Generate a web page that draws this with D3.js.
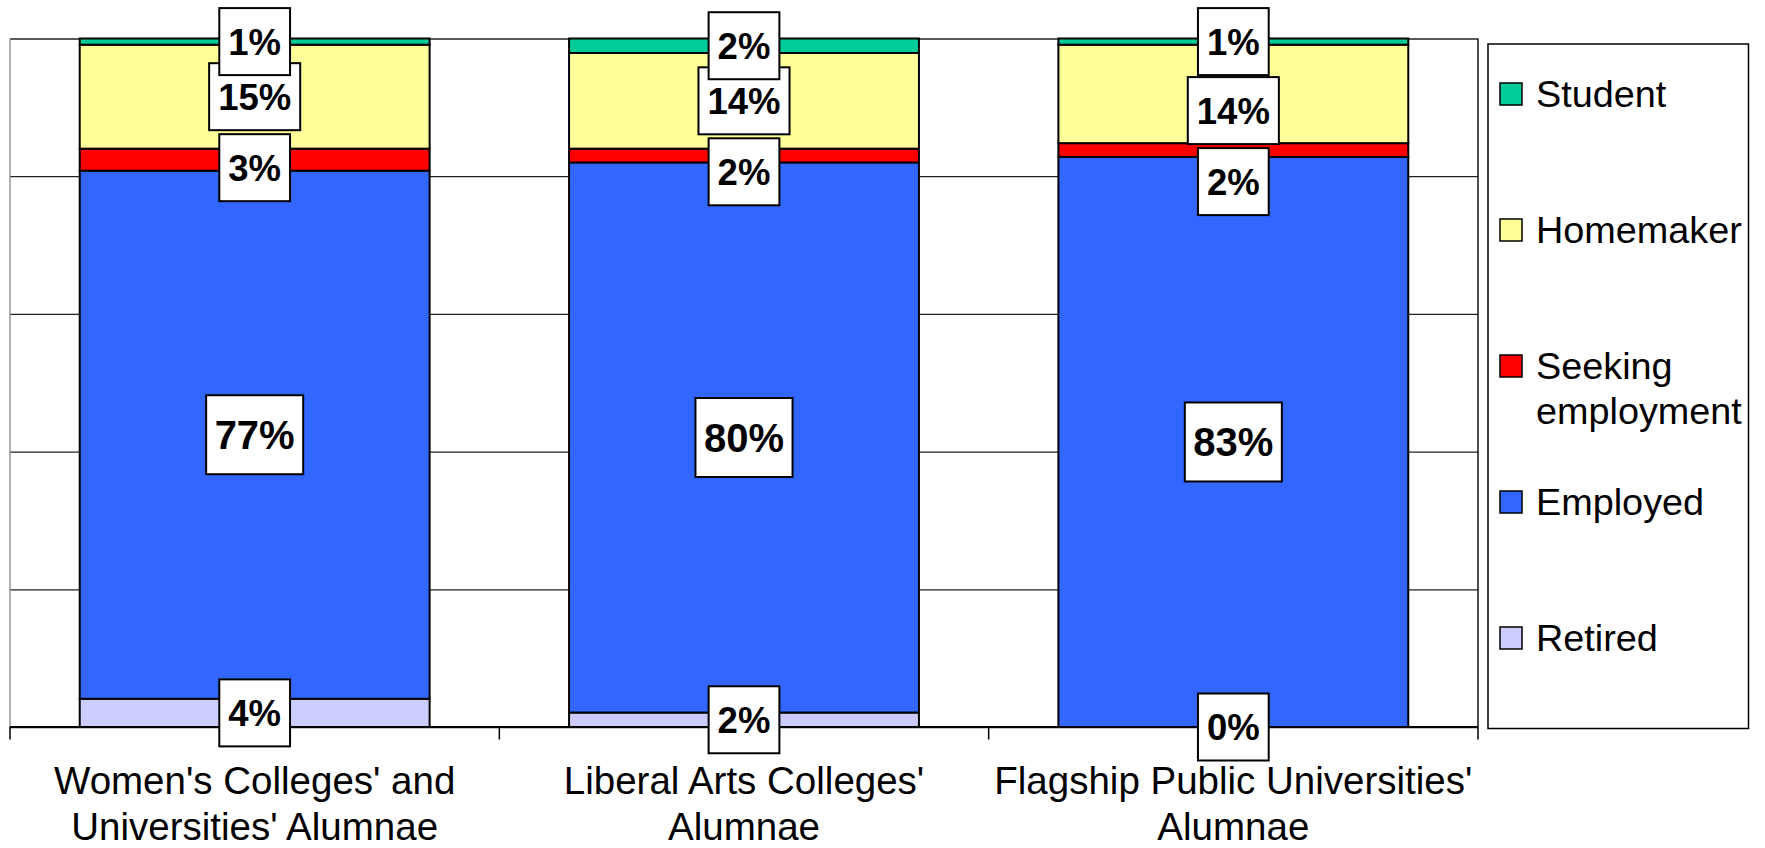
<!DOCTYPE html>
<html>
<head>
<meta charset="utf-8">
<script src="https://cdn.jsdelivr.net/npm/d3@7"></script>
<style>
  html, body { margin: 0; padding: 0; background: #fff; }
  svg { display: block; font-family: "Liberation Sans", Arial, sans-serif; }
</style>
</head>
<body>
<svg id="chart" width="1765" height="848"></svg>
<script>
// ---- data ----
const categories = [
  "Women's Colleges' and Universities' Alumnae",
  "Liberal Arts Colleges' Alumnae",
  "Flagship Public Universities' Alumnae"
];
const categoryLines = [
  ["Women's Colleges' and", "Universities' Alumnae"],
  ["Liberal Arts Colleges'", "Alumnae"],
  ["Flagship Public Universities'", "Alumnae"]
];
// stacked bottom -> top
const seriesNames = ["Retired", "Employed", "Seeking employment", "Homemaker", "Student"];
const retired   = [4.1, 2.1, 0.0];
const employed  = [76.7, 79.9, 82.8];
const seeking   = [3.2, 2.0, 2.0];
const homemaker = [15.1, 13.9, 14.3];
const student   = [0.9, 2.1, 0.9];
const seriesColors = ["#CCCCFF", "#3366FF", "#FF0000", "#FFFF99", "#00CC99"];
const yTicks = [0, 20, 40, 60, 80, 100];
// legend order (top -> bottom)
const legendOrder = ["Student", "Homemaker", "Seeking employment", "Employed", "Retired"];
const legendLines = {
  "Student": ["Student"],
  "Homemaker": ["Homemaker"],
  "Seeking employment": ["Seeking", "employment"],
  "Employed": ["Employed"],
  "Retired": ["Retired"]
};

// ---- build table ----
const seriesValues = [retired, employed, seeking, homemaker, student];
const table = categories.map((c, i) => {
  const row = { category: c };
  seriesNames.forEach((s, k) => row[s] = seriesValues[k][i]);
  return row;
});
const stacked = d3.stack().keys(seriesNames)(table);

// ---- layout ----
const svg = d3.select("#chart");
const plot = { left: 10, right: 1478, top: 38.5, bottom: 727 };

const x = d3.scaleBand()
  .domain(categories)
  .range([plot.left, plot.right])
  .paddingInner(0.285)
  .paddingOuter(0.1425);
const y = d3.scaleLinear().domain([0, 100]).range([plot.bottom, plot.top]);
const color = d3.scaleOrdinal().domain(seriesNames).range(seriesColors);

// gridlines
const grid = svg.append("g")
  .attr("transform", `translate(${plot.left},0)`)
  .call(d3.axisLeft(y).tickValues(yTicks).tickSize(-(plot.right - plot.left)).tickFormat(""));
grid.select(".domain").remove();
grid.selectAll(".tick line").attr("stroke", "#222").attr("stroke-width", 1.3);

// plot area side borders
svg.append("line").attr("x1", plot.left).attr("x2", plot.left)
  .attr("y1", y(100)).attr("y2", y(0)).attr("stroke", "#888").attr("stroke-width", 1.3);
svg.append("line").attr("x1", plot.right).attr("x2", plot.right)
  .attr("y1", y(100)).attr("y2", y(0)).attr("stroke", "#111").attr("stroke-width", 1.5);

// bars
const layers = svg.append("g").selectAll("g.layer")
  .data(stacked).join("g").attr("class", "layer")
  .attr("fill", d => color(d.key));
layers.selectAll("rect")
  .data(d => d.filter(p => p[1] - p[0] > 0))
  .join("rect")
  .attr("x", d => x(d.data.category))
  .attr("width", x.bandwidth())
  .attr("y", d => y(d[1]))
  .attr("height", d => y(d[0]) - y(d[1]))
  .attr("stroke", "#000")
  .attr("stroke-width", 2);

// x axis line + ticks between categories
svg.append("line").attr("x1", plot.left).attr("x2", plot.right)
  .attr("y1", y(0)).attr("y2", y(0)).attr("stroke", "#000").attr("stroke-width", 2.2);
const boundaries = d3.range(categories.length + 1).map(i =>
  i === 0 ? plot.left : (i === categories.length ? plot.right
    : (x(categories[i - 1]) + x.bandwidth() + x(categories[i])) / 2));
svg.append("g").selectAll("line").data(boundaries).join("line")
  .attr("x1", d => d).attr("x2", d => d)
  .attr("y1", y(0)).attr("y2", y(0) + 12.5)
  .attr("stroke", "#000").attr("stroke-width", 1.5);

// category labels
const catG = svg.append("g").selectAll("text").data(categories).join("text")
  .attr("x", d => x(d) + x.bandwidth() / 2)
  .attr("y", 794)
  .attr("text-anchor", "middle")
  .attr("font-size", 38.5)
  .attr("fill", "#000");
catG.each(function (d, i) {
  d3.select(this).selectAll("tspan").data(categoryLines[i]).join("tspan")
    .attr("x", x(d) + x.bandwidth() / 2)
    .attr("dy", (l, j) => j === 0 ? 0 : 45.5)
    .text(l => l);
});

// data labels
const labelG = svg.append("g");
const placed = {}; // category -> series -> {y, h}
stacked.forEach(layer => {
  const key = layer.key;
  const big = key === "Employed";
  const bh = big ? 79 : 67;
  layer.forEach(p => {
    const cat = p.data.category;
    placed[cat] = placed[cat] || {};
    placed[cat][key] = { y: (y(p[0]) + y(p[1])) / 2, h: bh };
  });
});
// resolve heavy overlaps near the top of each bar
categories.forEach(cat => {
  const st = placed[cat]["Student"], hm = placed[cat]["Homemaker"], sk = placed[cat]["Seeking employment"];
  const stBottom = st.y + st.h / 2;
  if (hm.y - hm.h / 2 < stBottom - 13) hm.y = stBottom + 2 + hm.h / 2;
  sk.y = Math.max(sk.y, hm.y + (hm.h + sk.h) / 2 + 4);
});
stacked.forEach(layer => {
  const key = layer.key;
  const big = key === "Employed";
  const fs = big ? 40 : 36.5;
  layer.forEach(p => {
    const cat = p.data.category;
    const pos = placed[cat][key];
    const cx = x(cat) + x.bandwidth() / 2;
    const g = labelG.append("g");
    const rect = g.append("rect").attr("fill", "#fff").attr("stroke", "#000").attr("stroke-width", 2);
    const t = g.append("text")
      .attr("x", cx)
      .attr("y", pos.y + fs * 0.36)
      .attr("text-anchor", "middle")
      .attr("font-size", fs)
      .attr("font-weight", "bold")
      .text(Math.round(p[1] - p[0]) + "%");
    const w = t.node().getComputedTextLength() + (big ? 17 : 18);
    rect.attr("x", cx - w / 2).attr("y", pos.y - pos.h / 2)
      .attr("width", w).attr("height", pos.h);
  });
});

// legend
const leg = { x: 1488, y: 44, w: 260.5, h: 684.5 };
svg.append("rect").attr("x", leg.x).attr("y", leg.y).attr("width", leg.w).attr("height", leg.h)
  .attr("fill", "#fff").attr("stroke", "#000").attr("stroke-width", 1.5);
const legItems = svg.append("g").selectAll("g").data(legendOrder).join("g")
  .attr("transform", (d, i) => `translate(${leg.x + 12},${94 + i * 136})`);
legItems.append("rect")
  .attr("x", 0).attr("y", -11).attr("width", 22).attr("height", 22)
  .attr("fill", d => color(d)).attr("stroke", "#000").attr("stroke-width", 1.5);
legItems.append("text")
  .attr("x", 36).attr("y", 12.7)
  .attr("font-size", 37.8)
  .attr("fill", "#000")
  .each(function (d) {
    d3.select(this).selectAll("tspan").data(legendLines[d]).join("tspan")
      .attr("x", 36).attr("dy", (l, j) => j === 0 ? 0 : 45)
      .text(l => l);
  });
</script>
</body>
</html>
